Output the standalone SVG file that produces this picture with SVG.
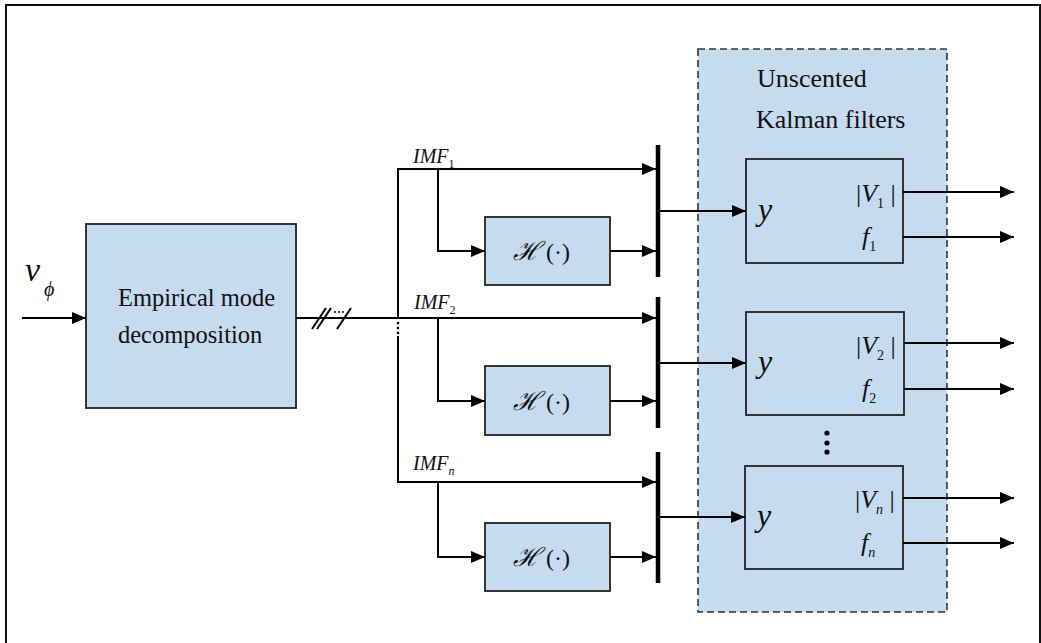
<svg xmlns="http://www.w3.org/2000/svg" width="1041" height="643" viewBox="0 0 1041 643">
<style>
.box{fill:#c5dbef;stroke:#222;stroke-width:1.8}
.ln{fill:none;stroke:#000;stroke-width:2}
.bar{stroke:#000;stroke-width:4.5}
</style>
<defs>
<marker id="ah" markerWidth="15" markerHeight="12" refX="14" refY="6" orient="auto" markerUnits="userSpaceOnUse">
<path d="M0,0 L14,6 L0,12 z" fill="#000"/>
</marker>
</defs>
<rect x="0" y="0" width="1041" height="643" fill="#fff"/>
<path d="M6,643 V5 H1040 V643" fill="none" stroke="#111" stroke-width="2"/>

<g id="ukf-group" font-family="Liberation Serif, DejaVu Serif, serif" fill="#111">
<rect x="698" y="49" width="249" height="563" fill="#c5dbef" stroke="#333" stroke-width="1.6" stroke-dasharray="7,4"/>
<text x="757" y="87" font-size="26">Unscented</text>
<text x="756" y="128" font-size="26">Kalman filters</text>
<circle cx="827" cy="433" r="2.6" fill="#000"/>
<circle cx="827" cy="443" r="2.6" fill="#000"/>
<circle cx="827" cy="452" r="2.6" fill="#000"/>
</g>

<g id="emd" font-family="Liberation Serif, DejaVu Serif, serif" fill="#111">
<rect class="box" x="86" y="224" width="210" height="184"/>
<text x="118" y="306" font-size="24.5">Empirical mode</text>
<text x="118" y="343" font-size="24.5">decomposition</text>
</g>

<g id="vphi" font-family="Liberation Serif, DejaVu Serif, serif" font-style="italic" fill="#111">
<text x="25" y="281" font-size="34">v</text>
<text x="44" y="296" font-size="20">ϕ</text>
</g>

<g id="h1">
<rect class="box" x="485" y="217" width="125" height="68"/>
<text x="513" y="260" font-family="DejaVu Serif, serif" font-style="italic" font-size="26" fill="#111">ℋ</text>
<text x="546" y="260" font-family="Liberation Serif, DejaVu Serif, serif" font-size="24" fill="#111">(·)</text>
</g>
<g id="h2">
<rect class="box" x="485" y="366" width="125" height="69"/>
<text x="513" y="410" font-family="DejaVu Serif, serif" font-style="italic" font-size="26" fill="#111">ℋ</text>
<text x="546" y="410" font-family="Liberation Serif, DejaVu Serif, serif" font-size="24" fill="#111">(·)</text>
</g>
<g id="h3">
<rect class="box" x="485" y="523" width="125" height="68"/>
<text x="513" y="566" font-family="DejaVu Serif, serif" font-style="italic" font-size="26" fill="#111">ℋ</text>
<text x="546" y="566" font-family="Liberation Serif, DejaVu Serif, serif" font-size="24" fill="#111">(·)</text>
</g>

<g id="ukf1" font-family="Liberation Serif, DejaVu Serif, serif" fill="#111">
<rect class="box" x="746" y="159" width="157" height="104"/>
<text x="758" y="220" font-size="32" font-style="italic">y</text>
<text x="856" y="202" font-size="26">|<tspan font-style="italic">V</tspan><tspan font-size="14" dy="6">1</tspan><tspan dy="-6"> |</tspan></text>
<text x="862" y="245" font-size="26"><tspan font-style="italic">f</tspan><tspan font-size="14" dy="6">1</tspan></text>
</g>
<g id="ukf2" font-family="Liberation Serif, DejaVu Serif, serif" fill="#111">
<rect class="box" x="746" y="312" width="158" height="103"/>
<text x="758" y="372" font-size="32" font-style="italic">y</text>
<text x="856" y="354" font-size="26">|<tspan font-style="italic">V</tspan><tspan font-size="14" dy="6">2</tspan><tspan dy="-6"> |</tspan></text>
<text x="862" y="397" font-size="26"><tspan font-style="italic">f</tspan><tspan font-size="14" dy="6">2</tspan></text>
</g>
<g id="ukfn" font-family="Liberation Serif, DejaVu Serif, serif" fill="#111">
<rect class="box" x="745" y="466" width="158" height="103"/>
<text x="757" y="526" font-size="32" font-style="italic">y</text>
<text x="855" y="508" font-size="26">|<tspan font-style="italic">V</tspan><tspan font-style="italic" font-size="14" dy="6">n</tspan><tspan dy="-6"> |</tspan></text>
<text x="861" y="551" font-size="26" font-style="italic">f<tspan font-size="14" dy="6">n</tspan></text>
</g>

<g id="labels" font-family="Liberation Serif, DejaVu Serif, serif" fill="#111">
<text x="413" y="163" font-size="20"><tspan font-style="italic">IMF</tspan><tspan font-size="12" dy="5">1</tspan></text>
<text x="414" y="309" font-size="20"><tspan font-style="italic">IMF</tspan><tspan font-size="12" dy="5">2</tspan></text>
<text x="413" y="470" font-size="20" font-style="italic">IMF<tspan font-size="12" dy="5">n</tspan></text>
</g>

<g id="connectors">
<line class="ln" x1="22" y1="318" x2="86" y2="318" marker-end="url(#ah)"/>
<line class="ln" x1="296" y1="318" x2="398" y2="318"/>
<line class="ln" x1="312" y1="329" x2="326" y2="308"/>
<line class="ln" x1="317" y1="329" x2="331" y2="308"/>
<line class="ln" x1="337" y1="329" x2="351" y2="308"/>
<circle cx="335" cy="312" r="1" fill="#000"/>
<circle cx="339" cy="312" r="1" fill="#000"/>
<circle cx="343" cy="312" r="1" fill="#000"/>
<line class="ln" x1="398" y1="169" x2="398" y2="318"/>
<line class="ln" x1="398" y1="336" x2="398" y2="482"/>
<circle cx="398" cy="323" r="1.3" fill="#000"/>
<circle cx="398" cy="328" r="1.3" fill="#000"/>
<circle cx="398" cy="333" r="1.3" fill="#000"/>

<line class="ln" x1="397" y1="169" x2="656" y2="169" marker-end="url(#ah)"/>
<polyline class="ln" points="438,169 438,251 485,251" marker-end="url(#ah)"/>
<line class="ln" x1="610" y1="251" x2="656" y2="251" marker-end="url(#ah)"/>
<line class="bar" x1="658" y1="145" x2="658" y2="277"/>
<line class="ln" x1="660" y1="211" x2="746" y2="211" marker-end="url(#ah)"/>

<line class="ln" x1="398" y1="318" x2="656" y2="318" marker-end="url(#ah)"/>
<polyline class="ln" points="438,318 438,401 485,401" marker-end="url(#ah)"/>
<line class="ln" x1="610" y1="401" x2="656" y2="401" marker-end="url(#ah)"/>
<line class="bar" x1="658" y1="297" x2="658" y2="428"/>
<line class="ln" x1="660" y1="363" x2="746" y2="363" marker-end="url(#ah)"/>

<line class="ln" x1="397" y1="482" x2="656" y2="482" marker-end="url(#ah)"/>
<polyline class="ln" points="438,482 438,557 485,557" marker-end="url(#ah)"/>
<line class="ln" x1="610" y1="557" x2="656" y2="557" marker-end="url(#ah)"/>
<line class="bar" x1="658" y1="452" x2="658" y2="583"/>
<line class="ln" x1="660" y1="517" x2="745" y2="517" marker-end="url(#ah)"/>

<line class="ln" x1="903" y1="192" x2="1014" y2="192" marker-end="url(#ah)"/>
<line class="ln" x1="903" y1="237" x2="1014" y2="237" marker-end="url(#ah)"/>
<line class="ln" x1="904" y1="343" x2="1014" y2="343" marker-end="url(#ah)"/>
<line class="ln" x1="904" y1="389" x2="1014" y2="389" marker-end="url(#ah)"/>
<line class="ln" x1="903" y1="498" x2="1014" y2="498" marker-end="url(#ah)"/>
<line class="ln" x1="903" y1="543" x2="1014" y2="543" marker-end="url(#ah)"/>
</g>
</svg>
